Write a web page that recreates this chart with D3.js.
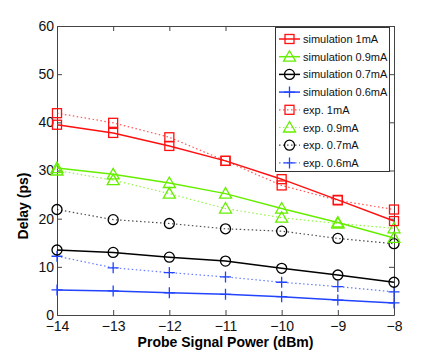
<!DOCTYPE html>
<html>
<head>
<meta charset="utf-8">
<script src="https://cdn.jsdelivr.net/npm/d3@7"></script>
<style>
body { margin: 0; background: #fff; }
svg { font-family: "Liberation Sans", Arial, sans-serif; }
</style>
</head>
<body>
<div id="chart"></div>
<script>
var power = [-14, -13, -12, -11, -10, -9, -8];

var sim1mA = [39.5, 37.8, 35.1, 32.0, 28.2, 23.9, 19.5];
var sim09mA = [30.5, 29.2, 27.4, 25.2, 22.1, 19.2, 16.0];
var sim07mA = [13.5, 13.0, 12.0, 11.2, 9.7, 8.3, 6.8];
var sim06mA = [5.2, 5.0, 4.6, 4.3, 3.8, 3.1, 2.5];

var exp1mA = [41.9, 39.9, 36.9, 32.0, 26.9, 23.8, 21.9];
var exp09mA = [30.0, 28.0, 25.2, 22.1, 20.2, 19.0, 18.0];
var exp07mA = [21.9, 19.8, 19.0, 17.9, 17.4, 15.9, 14.8];
var exp06mA = [12.2, 9.8, 8.8, 7.9, 6.8, 5.9, 4.8];

var xTicks = [-14, -13, -12, -11, -10, -9, -8];
var yTicks = [0, 10, 20, 30, 40, 50, 60];

var series = [
    {name: "simulation 1mA", values: sim1mA, color: "#ff1010", marker: "square", dotted: false},
    {name: "simulation 0.9mA", values: sim09mA, color: "#66ee00", marker: "triangle", dotted: false},
    {name: "simulation 0.7mA", values: sim07mA, color: "#000000", marker: "circle", dotted: false},
    {name: "simulation 0.6mA", values: sim06mA, color: "#2244ff", marker: "plus", dotted: false},
    {name: "exp. 1mA", values: exp1mA, color: "#ff1010", marker: "square", dotted: true},
    {name: "exp. 0.9mA", values: exp09mA, color: "#66ee00", marker: "triangle", dotted: true},
    {name: "exp. 0.7mA", values: exp07mA, color: "#000000", marker: "circle", dotted: true},
    {name: "exp. 0.6mA", values: exp06mA, color: "#2244ff", marker: "plus", dotted: true}
];

var width = 436, height = 355;
var mLeft = 57, mRight = 394, mTop = 26, mBottom = 315;

var svg = d3.select("#chart")
    .append("svg")
    .attr("width", width)
    .attr("height", height);

var x = d3.scaleLinear().domain([-14, -8]).range([mLeft, mRight]);
var y = d3.scaleLinear().domain([0, 60]).range([mBottom, mTop]);

function minus(d) { return String(d).replace("-", "\u2212"); }

// axes box with inward ticks like matlab
svg.append("g")
    .attr("transform", "translate(0," + mBottom + ")")
    .call(d3.axisBottom(x).tickValues(xTicks).tickSizeInner(-5).tickSizeOuter(0).tickPadding(6).tickFormat(minus));
svg.append("g")
    .attr("transform", "translate(0," + mTop + ")")
    .call(d3.axisTop(x).tickValues(xTicks).tickSizeInner(-5).tickSizeOuter(0).tickFormat(""));
svg.append("g")
    .attr("transform", "translate(" + mLeft + ",0)")
    .call(d3.axisLeft(y).tickValues(yTicks).tickSizeInner(-5).tickSizeOuter(0).tickPadding(3));
svg.append("g")
    .attr("transform", "translate(" + mRight + ",0)")
    .call(d3.axisRight(y).tickValues(yTicks).tickSizeInner(-5).tickSizeOuter(0).tickFormat(""));

svg.selectAll(".domain, .tick line").attr("stroke", "#444").attr("stroke-width", 1);
svg.selectAll(".tick text").attr("font-size", 14).attr("fill", "#111")
    .attr("font-family", "Liberation Sans, Arial, sans-serif");

svg.append("text")
    .attr("x", (mLeft + mRight) / 2)
    .attr("y", 347)
    .attr("text-anchor", "middle")
    .attr("font-size", 14)
    .attr("font-weight", "bold")
    .text("Probe Signal Power (dBm)");

svg.append("text")
    .attr("transform", "translate(28,206) rotate(-90)")
    .attr("text-anchor", "middle")
    .attr("font-size", 14)
    .attr("font-weight", "bold")
    .text("Delay (ps)");

function drawMarker(g, type, color, cx, cy) {
    if (type == "square") {
        g.append("rect").attr("x", cx - 4.5).attr("y", cy - 4.5).attr("width", 9).attr("height", 9)
            .attr("fill", "none").attr("stroke", color).attr("stroke-width", 1.3);
    } else if (type == "triangle") {
        g.append("path").attr("d", "M" + cx + "," + (cy - 6) + "L" + (cx + 6) + "," + (cy + 4.5) + "L" + (cx - 6) + "," + (cy + 4.5) + "Z")
            .attr("fill", "none").attr("stroke", color).attr("stroke-width", 1.3);
    } else if (type == "circle") {
        g.append("circle").attr("cx", cx).attr("cy", cy).attr("r", 5)
            .attr("fill", "none").attr("stroke", color).attr("stroke-width", 1.3);
    } else {
        g.append("path").attr("d", "M" + (cx - 5.5) + "," + cy + "H" + (cx + 5.5) + "M" + cx + "," + (cy - 5.5) + "V" + (cy + 5.5))
            .attr("fill", "none").attr("stroke", color).attr("stroke-width", 1.3);
    }
}

var line = d3.line()
    .x(function(d, i) { return x(power[i]); })
    .y(function(d) { return y(d); });

var plot = svg.append("g");
series.slice().reverse().forEach(function(s) {
    plot.append("path")
        .attr("d", line(s.values))
        .attr("fill", "none")
        .attr("stroke", s.color)
        .attr("stroke-width", s.dotted ? 1.2 : 1.5)
        .attr("stroke-dasharray", s.dotted ? "1.5,2.5" : null)
        .attr("opacity", s.dotted ? 0.7 : 1);
    s.values.forEach(function(v, i) {
        drawMarker(plot, s.marker, s.color, x(power[i]), y(v));
    });
});

// legend
var lg = svg.append("g");
lg.append("rect")
    .attr("x", 275.5).attr("y", 27.5).attr("width", 114).attr("height", 144)
    .attr("fill", "#fff").attr("stroke", "#333").attr("stroke-width", 1);

series.forEach(function(s, i) {
    var ly = 39 + i * 17.7;
    lg.append("line")
        .attr("x1", 279).attr("x2", 300).attr("y1", ly).attr("y2", ly)
        .attr("stroke", s.color)
        .attr("stroke-width", s.dotted ? 1.2 : 1.5)
        .attr("stroke-dasharray", s.dotted ? "1.5,2.5" : null)
        .attr("opacity", s.dotted ? 0.7 : 1);
    drawMarker(lg, s.marker, s.color, 289.5, ly);
    lg.append("text")
        .attr("x", 303)
        .attr("y", ly + 4)
        .attr("font-size", 11)
        .attr("fill", "#111")
        .text(s.name);
});
</script>
</body>
</html>
